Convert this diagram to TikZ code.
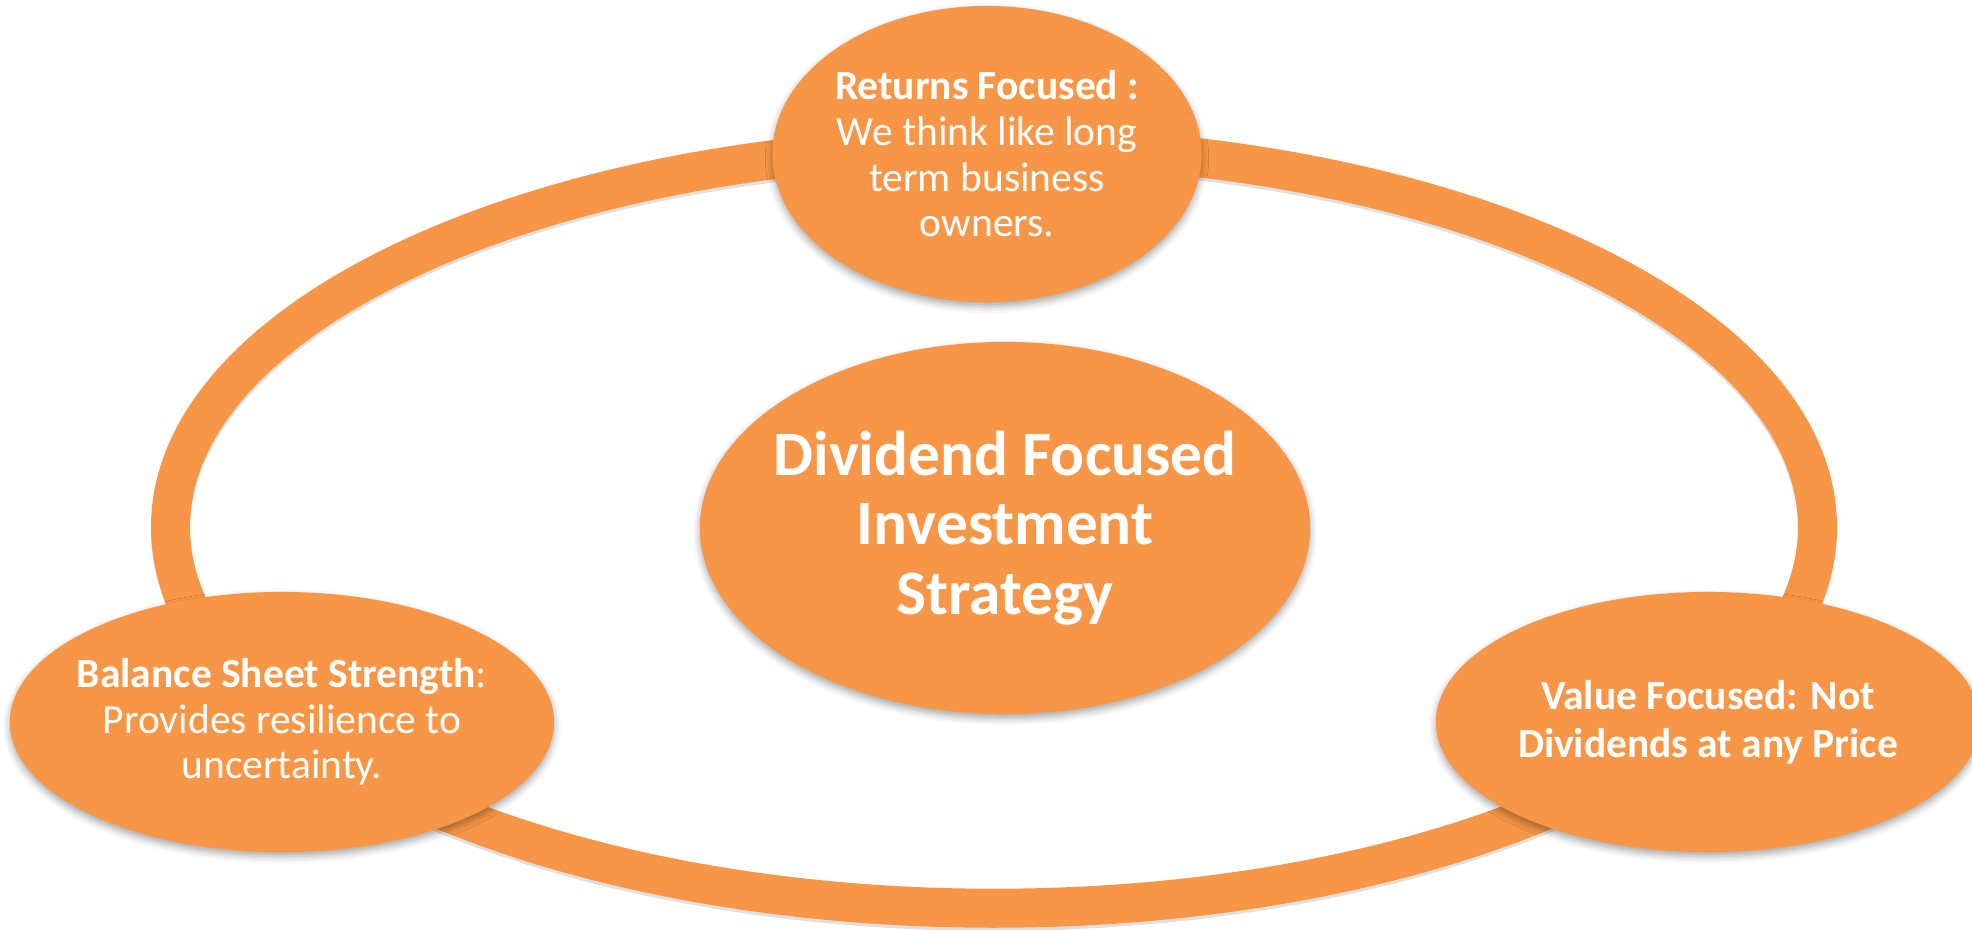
\documentclass[tikz,border=0pt]{standalone}
\usepackage{fontspec}
\setmainfont{Carlito}
\usetikzlibrary{shapes.geometric,shadows.blur}
\definecolor{accent}{HTML}{F79646}
\begin{document}
\begin{tikzpicture}[x=0.01cm,y=-0.01cm,
                    ring/.style={draw=accent,line width=0.39cm},
                    ringshade/.style={draw=black,opacity=0.12,line width=0.39cm},
                    bubble/.style={ellipse,fill=accent,inner sep=0pt,
                        blur shadow={shadow xshift=0pt,shadow yshift=-1.2pt,shadow blur radius=2pt,shadow opacity=35}},
                    small/.style={text=white,align=center,font=\fontsize{11.8}{13}\selectfont},
                    big/.style={text=white,align=center,font=\fontsize{18}{19.8}\selectfont\bfseries}]
                    \useasboundingbox (0,0) rectangle (1972,929);
                    \coordinate (O) at (994,527);
                    \draw[ringshade] ([yshift=-0.9pt]O) ellipse [x radius=8.23cm, y radius=3.81cm];
                    \draw[ring] (O) ellipse [x radius=8.23cm, y radius=3.81cm];
                    \node[bubble,minimum width=6.10cm,minimum height=3.72cm] (core) at (1005,528) {};
                    \node[bubble,minimum width=4.29cm,minimum height=2.96cm] (returns) at (987,154) {};
                    \node[bubble,minimum width=5.44cm,minimum height=2.60cm] (balance) at (282,722) {};
                    \node[bubble,minimum width=5.44cm,minimum height=2.60cm] (value) at (1708,722) {};
                    \node[big] (core-txt) at (core) {Dividend Focused\\Investment\\Strategy};
                    \node[small] (returns-txt) at (returns) {\textbf{Returns Focused :}\\We think like long\\term business\\owners.};
                    \node[small] (balance-txt) at (balance) {\textbf{Balance Sheet Strength}:\\Provides resilience to\\uncertainty.};
                    \node[small,font=\fontsize{11.8}{13.6}\selectfont\bfseries] (value-txt) at (value) {Value Focused: Not\\Dividends at any Price};
                \end{tikzpicture}
\end{document}
